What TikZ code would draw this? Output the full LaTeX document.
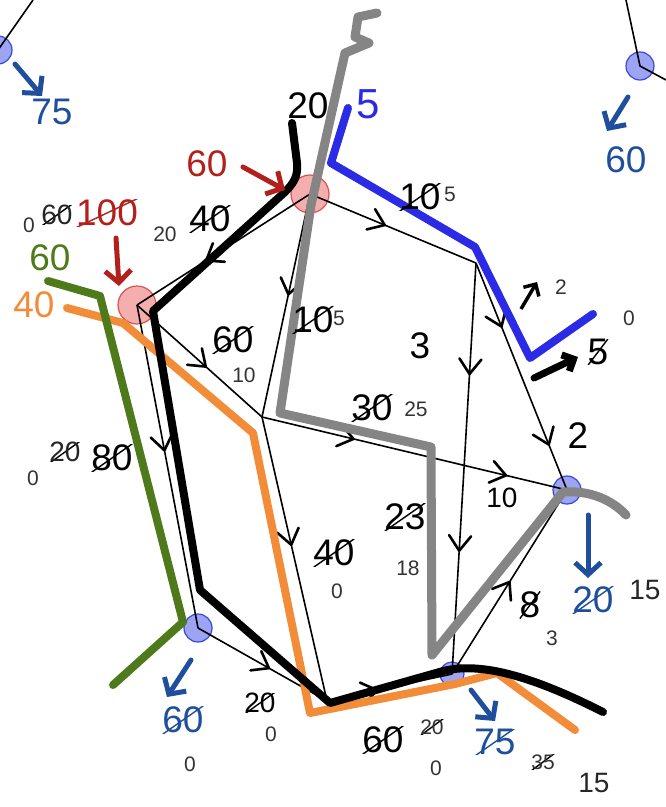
\documentclass[tikz,border=0pt]{standalone}
\usepackage{fontspec}
\setmainfont{Liberation Sans}
\usetikzlibrary{arrows.meta,decorations.markings}
\definecolor{rednode}{HTML}{F29A9A}
\definecolor{redborder}{HTML}{D9534F}
\definecolor{darkred}{HTML}{B3201C}
\definecolor{bluenode}{HTML}{8C94F2}
\definecolor{blueborder}{HTML}{3A48D6}
\definecolor{sinkblue}{HTML}{1F4F9C}
\definecolor{pathblue}{HTML}{2B2BE6}
\definecolor{pathgray}{HTML}{858585}
\definecolor{pathorange}{HTML}{F28C38}
\definecolor{pathgreen}{HTML}{4E7A1C}
\newcommand{\vhead}{\draw[line width=2.6pt,line cap=round,line join=round] (-15pt,-11pt) -- (0pt,0pt) -- (-15pt,11pt);}
\begin{document}
\begin{tikzpicture}[x=1pt,y=-1pt,
  edge/.style={line width=1.6pt,black},
  midarrow/.style={postaction={decorate},decoration={markings,
     mark=at position #1 with {\vhead}}},
  twoarrow/.style 2 args={postaction={decorate},decoration={markings,
     mark=at position #1 with {\vhead},
     mark=at position #2 with {\vhead}}},
  rednd/.style={circle,minimum size=38pt,inner sep=0pt,fill=rednode,fill opacity=0.8,draw=redborder,line width=1.2pt},
  bluend/.style={circle,minimum size=#1,inner sep=0pt,fill=bluenode,fill opacity=0.85,draw=blueborder,line width=1.2pt},
  bluend/.default=28pt,
  hl/.style={line width=8pt,line cap=round,line join=round},
  sink/.style={sinkblue,line width=5pt,line cap=round,-{Straight Barb[length=12pt,width=26pt]}},
  redarr/.style={darkred,line width=5pt,line cap=round,-{Straight Barb[length=12pt,width=26pt]}},
  lbig/.style={font=\fontsize{37}{39}\selectfont,inner sep=0pt},
  lmid/.style={font=\fontsize{28}{30}\selectfont,inner sep=0pt},
  lsmall/.style={font=\fontsize{21}{23}\selectfont,inner sep=0pt,black!80},
  strike/.style={path picture={\draw[line width=1.4pt,#1]
     ([xshift=-1pt,yshift=-2pt]path picture bounding box.south west) --
     ([xshift=1pt,yshift=2pt]path picture bounding box.north east);}},
  strike/.default=black
]
\useasboundingbox (0,0) rectangle (666,807);

% junctions and border points
\coordinate (C) at (262,417);
\coordinate (D) at (476,263);
\coordinate (G) at (327,701);
\coordinate (tl0) at (33,0);
\coordinate (tr0) at (626,0);
\coordinate (tr1) at (666,80);

% graph nodes
\node[rednd] (A) at (137,305) {};
\node[rednd] (B) at (310,194) {};
\node[bluend] (E) at (567,490) {};
\node[bluend] (F) at (198,628) {};
\node[bluend=24pt] (H) at (452,674) {};
\node[bluend] (TL) at (-2,50) {};
\node[bluend] (TR) at (640,66) {};

% thin edges
\draw[edge] (TL.center) -- (tl0);
\draw[edge] (tr0) -- (TR.center) -- (tr1);
\draw[edge,midarrow=0.6] (B.center) -- (A.center);
\draw[edge,midarrow=0.45] (B.center) -- (D);
\draw[edge,midarrow=0.45] (B.center) -- (C);
\draw[edge,midarrow=0.55] (A.center) -- (C);
\draw[edge,midarrow=0.45] (A.center) -- (F.center);
\draw[edge,twoarrow={0.3}{0.8}] (C) -- (E.center);
\draw[edge,midarrow=0.45] (C) -- (G);
\draw[edge,midarrow=0.55] (F.center) -- (G);
\draw[edge,midarrow=0.4] (G) -- (H.center);
\draw[edge,twoarrow={0.27}{0.7}] (D) -- (H.center);
\draw[edge,twoarrow={0.28}{0.8}] (D) -- (E.center);
\draw[edge,midarrow=0.5] (H.center) -- (E.center);

% thick highlighted paths
\draw[hl,pathorange] (67,308) -- (123,323) -- (253,433) -- (310,713) -- (455,684) -- (497,673) -- (575,730);
\draw[hl,pathgreen] (48,281) -- (100,296) -- (183,622) -- (113,685);
\draw[hl,pathgray,line width=9pt] (377,13) -- (358,17) -- (355,37) -- (369,43) -- (345,53) -- (311,205) -- (280,413) -- (431,447) -- (432,655) -- (563,492) .. controls (590,490) and (612,500) .. (626,515);
\draw[hl,black] (292,123) -- (297,163) .. controls (298,175) and (295,182) .. (285,192) -- (153,311) -- (200,590) -- (330,703) -- (443,671) .. controls (480,662) and (530,675) .. (603,712);
\draw[hl,pathblue] (348,108) -- (331,163) -- (475,247) -- (530,358) -- (593,314);

% small black flow arrows
\coordinate (s2a) at (521,309);
\coordinate (s2b) at (537,282);
\draw[black,line width=3.5pt,-{Straight Barb[length=9pt,width=18pt]}] (s2a) -- (s2b);
\coordinate (s5a) at (534,378);
\coordinate (s5b) at (578,357);
\draw[black,line width=7pt,line cap=round,-{Straight Barb[length=9pt,width=18pt]}] (s5a) -- (s5b);

% sink and source arrows
\coordinate (ka1) at (15,64);   \coordinate (ka2) at (42,96);
\coordinate (kb1) at (628,97);  \coordinate (kb2) at (607,131);
\coordinate (kc1) at (588,515); \coordinate (kc2) at (588,578);
\coordinate (kd1) at (191,660); \coordinate (kd2) at (167,697);
\coordinate (ke1) at (471,690); \coordinate (ke2) at (495,721);
\coordinate (ra1) at (243,167); \coordinate (ra2) at (285,190);
\coordinate (rb1) at (116,238); \coordinate (rb2) at (119,286);
\draw[sink] (ka1) -- (ka2);
\draw[sink] (kb1) -- (kb2);
\draw[sink] (kc1) -- (kc2);
\draw[sink] (kd1) -- (kd2);
\draw[sink] (ke1) -- (ke2);
\draw[redarr] (ra1) -- (ra2);
\draw[redarr] (rb1) -- (rb2);

% labels
\node[lbig,sinkblue] (t75) at (52,112) {75};
\node[lbig,sinkblue] (t60r) at (626,160) {60};
\node[lbig] (t20top) at (308,106) {20};
\node[lbig,pathblue,font=\fontsize{42}{44}\selectfont] (t5b) at (368,104) {5};
\node[lbig,darkred] (t60red) at (207,164) {60};
\node[lsmall] (t0a) at (29,225) {0};
\node[lmid,strike,black!85] (t60a) at (57,215) {60};
\node[lbig,darkred,strike=darkred] (t100) at (107,213) {100};
\node[lsmall] (t20a) at (165,234) {20};
\node[lbig,strike] (t40a) at (210,219) {40};
\node[lbig,pathgreen] (tg60) at (50,258) {60};
\node[lbig,pathorange] (to40) at (34,305) {40};
\node[lbig,strike] (t60ac) at (233,340) {60};
\node[lsmall] (t10ac) at (244,375) {10};
\node[lbig,strike] (t10bc) at (313,320) {10};
\node[lsmall] (t5bc) at (339,318) {5};
\node[lbig,strike] (t10bd) at (420,197) {10};
\node[lsmall] (t5bd) at (450,194) {5};
\node[lbig] (t3) at (420,346) {3};
\node[lbig,strike] (t30) at (372,408) {30};
\node[lsmall] (t25) at (416,409) {25};
\node[lsmall] (t2s) at (561,287) {2};
\node[lbig,strike] (t5s) at (598,352) {5};
\node[lsmall] (t0s) at (629,318) {0};
\node[lbig] (t2e) at (578,436) {2};
\node[lmid] (t10ce) at (502,498) {10};
\node[lbig,strike] (t80) at (112,458) {80};
\node[lmid,strike,black!85] (t20af) at (65,452) {20};
\node[lsmall] (t0af) at (33,478) {0};
\node[lbig,strike] (t40cg) at (334,553) {40};
\node[lsmall] (t0cg) at (337,591) {0};
\node[lbig,strike] (t23) at (405,517) {23};
\node[lsmall] (t18) at (408,568) {18};
\node[lbig,strike] (t8) at (530,605) {8};
\node[lsmall] (t3he) at (552,638) {3};
\node[lbig,sinkblue,strike=sinkblue] (t20e) at (593,600) {20};
\node[lmid,black!85] (t15e) at (645,590) {15};
\node[lbig,sinkblue,strike=sinkblue] (t60f) at (183,720) {60};
\node[lsmall] (t0f) at (190,764) {0};
\node[lmid,strike] (t20fg) at (260,703) {20};
\node[lsmall] (t0fg) at (271,734) {0};
\node[lbig,strike] (t60gh) at (383,740) {60};
\node[lsmall,strike] (t20gh) at (432,727) {20};
\node[lsmall] (t0gh) at (436,768) {0};
\node[lbig,sinkblue,strike=sinkblue] (t75h) at (495,742) {75};
\node[lsmall,strike] (t35) at (543,762) {35};
\node[lmid,black!85] (t15h) at (594,783) {15};
\end{tikzpicture}
\end{document}
